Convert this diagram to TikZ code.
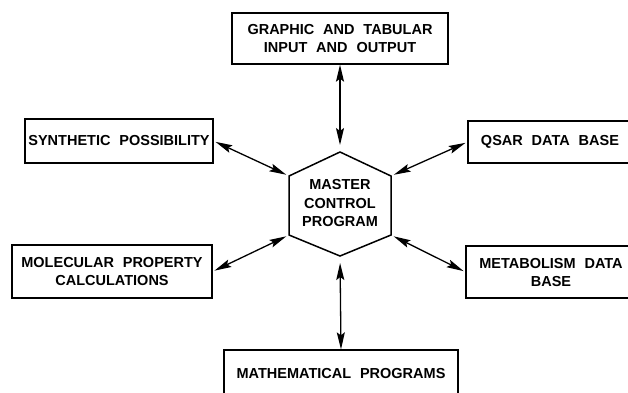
\documentclass[tikz,border=0pt]{standalone}
\usepackage{fontspec}
\newfontfamily\diagfamily{Liberation Sans}[WordSpace=2.2]
\newcommand\diagfont{\diagfamily\bfseries\fontsize{14.5}{18}\selectfont}
\usetikzlibrary{arrows.meta}
\begin{document}
\begin{tikzpicture}[x=1pt,y=-1pt,
  box/.style={draw, line width=1.3pt, inner sep=0pt, align=center, font=\diagfont},
  label/.style={inner sep=0pt, align=center, font=\diagfont},
  link/.style={line width=1.3pt, {Stealth[length=17pt,width=8pt,inset=3pt]}-{Stealth[length=17pt,width=8pt,inset=3pt]}},
  hexline/.style={line width=1.5pt, line join=miter}]
  \useasboundingbox (0,0) rectangle (628,392);
  \fill[white] (0,0) rectangle (628,392);
  \clip (0,0) rectangle (628,392);

  % peripheral modules
  \node[box, minimum width=216pt, minimum height=51pt] (io) at (340,38.5)
    {GRAPHIC AND TABULAR\\INPUT AND OUTPUT};
  \node[box, minimum width=188pt, minimum height=44pt] (synth) at (119,141)
    {SYNTHETIC POSSIBILITY};
  \node[box, minimum width=164pt, minimum height=42pt] (qsar) at (550,142)
    {QSAR DATA BASE};
  \node[box, minimum width=200pt, minimum height=53pt] (molprop) at (112,271.5)
    {MOLECULAR PROPERTY\\CALCULATIONS};
  \node[box, minimum width=170pt, minimum height=52pt] (metab) at (551,272)
    {METABOLISM DATA\\BASE};
  \node[box, minimum width=234pt, minimum height=46pt] (math) at (341,373)
    {MATHEMATICAL PROGRAMS};

  % central hexagon
  \coordinate (hxT)  at (340,152);
  \coordinate (hxUL) at (289,176);
  \coordinate (hxLL) at (289,235);
  \coordinate (hxB)  at (340,256);
  \coordinate (hxLR) at (391,235);
  \coordinate (hxUR) at (391,176);
  \draw[hexline] (hxT) -- (hxUL) -- (hxLL) -- (hxB) -- (hxLR) -- (hxUR) -- cycle;
  \node[label] (master) at (340,203) {MASTER\\CONTROL\\PROGRAM};

  % two-way links
  \draw[link, shorten >=7pt] (io.south) -- (hxT);
  \draw[link, shorten >=7pt] (math.north) -- (hxB);
  \draw[link, shorten <=2pt, shorten >=3pt] (synth.east) -- (hxUL);
  \draw[link, shorten <=2pt, shorten >=3pt] (qsar.west) -- (hxUR);
  \draw[link, shorten <=2pt, shorten >=3pt] (molprop.east) -- (hxLL);
  \draw[link, shorten <=2pt, shorten >=3pt] (metab.west) -- (hxLR);
\end{tikzpicture}
\end{document}
